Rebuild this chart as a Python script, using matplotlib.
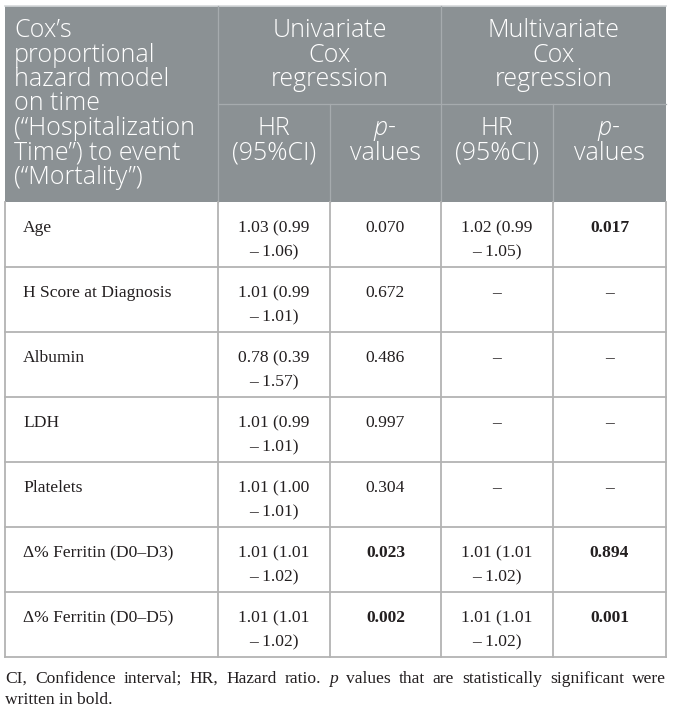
import matplotlib
matplotlib.use("Agg")
import matplotlib.pyplot as plt
from matplotlib.patches import Rectangle

# --- table content ---
header_col1 = ["Cox\u2019s", "proportional", "hazard model", "on time",
               "(\u201cHospitalization", "Time\u201d) to event", "(\u201cMortality\u201d)"]
group_titles = [["Univariate", "Cox", "regression"],
                ["Multivariate", "Cox", "regression"]]
sub_hr = ["HR", "(95%CI)"]
sub_p = ["values"]

variables = ["Age", "H Score at Diagnosis", "Albumin", "LDH", "Platelets",
             "\u0394% Ferritin (D0\u2013D3)", "\u0394% Ferritin (D0\u2013D5)"]
uni_hr = ["1.03 (0.99|\u2013 1.06)", "1.01 (0.99|\u2013 1.01)", "0.78 (0.39|\u2013 1.57)",
          "1.01 (0.99|\u2013 1.01)", "1.01 (1.00|\u2013 1.01)", "1.01 (1.01|\u2013 1.02)",
          "1.01 (1.01|\u2013 1.02)"]
uni_p = ["0.070", "0.672", "0.486", "0.997", "0.304", "0.023", "0.002"]
uni_p_bold = [False, False, False, False, False, True, True]
multi_hr = ["1.02 (0.99|\u2013 1.05)", "\u2013", "\u2013", "\u2013", "\u2013",
            "1.01 (1.01|\u2013 1.02)", "1.01 (1.01|\u2013 1.02)"]
multi_p = ["0.017", "\u2013", "\u2013", "\u2013", "\u2013", "0.894", "0.001"]
multi_p_bold = [True, False, False, False, False, True, True]

footnote_1 = ["CI,", "Confidence", "interval;", "HR,", "Hazard", "ratio.", "*p", "values",
              "that", "are", "statistically", "significant", "were"]
footnote_2 = "written in bold."

# --- layout (pixels) ---
W, H = 673, 713
col_x = [5, 218, 330, 441, 553, 666]
head_top, head_mid, head_bot = 6, 104, 202
row_h = 65
head_base = [37 + 24.5 * i for i in range(7)]   # baselines of header lines

head_bg = "#8b9194"
head_sep = "#a6abae"
grid_c = "#b3b3b3"
ink = "#231f20"
sans = "Open Sans"
serif = "Liberation Serif"
hs = 18.0   # header font size
bs = 12.6   # body font size

fig = plt.figure(figsize=(W / 100, H / 100), dpi=100)
ax = fig.add_axes([0, 0, 1, 1])
ax.set_xlim(0, W)
ax.set_ylim(H, 0)
ax.axis("off")

# header block
ax.add_patch(Rectangle((col_x[0], head_top), col_x[-1] - col_x[0], head_bot - head_top,
                       facecolor=head_bg, edgecolor="none"))
ax.plot([col_x[0], col_x[-1]], [head_top - 0.5, head_top - 0.5], color="#d5d8da", lw=1.2)
ax.plot([col_x[1], col_x[1]], [head_top, head_bot], color=head_sep, lw=0.9)
ax.plot([col_x[3], col_x[3]], [head_top, head_bot], color=head_sep, lw=0.9)
ax.plot([col_x[2], col_x[2]], [head_mid, head_bot], color=head_sep, lw=0.9)
ax.plot([col_x[4], col_x[4]], [head_mid, head_bot], color=head_sep, lw=0.9)
ax.plot([col_x[1], col_x[-1]], [head_mid, head_mid], color=head_sep, lw=0.9)

def htext(x, y, s, ha="center", **kw):
    ax.text(x, y, s, color="white", fontsize=hs, family=sans, weight="light",
            ha=ha, va="baseline", **kw)

for y, s in zip(head_base, header_col1):
    htext(14, y, s, ha="left")

for g, lines in enumerate(group_titles):
    cx = (col_x[1 + 2 * g] + col_x[3 + 2 * g]) / 2
    for y, s in zip(head_base[:3], lines):
        htext(cx, y, s)
    hx = (col_x[1 + 2 * g] + col_x[2 + 2 * g]) / 2
    px = (col_x[2 + 2 * g] + col_x[3 + 2 * g]) / 2
    for y, s in zip(head_base[4:6], sub_hr):
        htext(hx, y, s)
    htext(px + 2, head_base[4], "p", ha="right", style="italic")
    htext(px + 2, head_base[4], "-", ha="left")
    htext(px, head_base[5], sub_p[0])

# body rows
n = len(variables)
body_bot = head_bot + n * row_h
for i in range(1, n + 1):
    y = head_bot + i * row_h
    ax.plot([col_x[0], col_x[-1]], [y, y], color=grid_c, lw=1.3)
for x in col_x:
    ax.plot([x, x], [head_bot, body_bot], color=grid_c, lw=1.3)

def cell(x, top, s, bold=False, ha="center"):
    for k, part in enumerate(s.split("|")):
        ax.text(x, top + 30 + 24 * k, part, fontsize=bs, family=serif, color=ink,
                weight="bold" if bold else "normal", ha=ha, va="baseline")

centers = [(col_x[j] + col_x[j + 1]) / 2 for j in range(5)]
for i in range(n):
    top = head_bot + i * row_h
    cell(23, top, variables[i], ha="left")
    cell(centers[1], top, uni_hr[i])
    cell(centers[2], top, uni_p[i], bold=uni_p_bold[i])
    cell(centers[3], top, multi_hr[i])
    cell(centers[4], top, multi_p[i], bold=multi_p_bold[i])

# footnote, first line justified to the table width
fy1, fy2 = body_bot + 26, body_bot + 47
fig.canvas.draw()
renderer = fig.canvas.get_renderer()
inv = ax.transData.inverted()
words = []
total = 0
for w in footnote_1:
    italic = w.startswith("*")
    t = ax.text(0, fy1, w.lstrip("*"), fontsize=bs, family=serif, color=ink,
                style="italic" if italic else "normal", ha="left", va="baseline")
    bb = t.get_window_extent(renderer)
    wd = inv.transform((bb.x1, 0))[0] - inv.transform((bb.x0, 0))[0]
    words.append((t, wd))
    total += wd
gap = (col_x[-1] - col_x[0] - total) / (len(words) - 1)
x = col_x[0]
for t, wd in words:
    t.set_x(x)
    x += wd + gap
ax.text(col_x[0], fy2, footnote_2, fontsize=bs, family=serif, color=ink,
        ha="left", va="baseline")

fig.savefig("out.png", dpi=100)
